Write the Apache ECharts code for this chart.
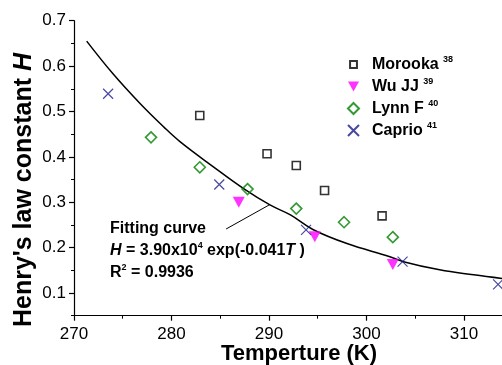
<!DOCTYPE html>
<html>
<head>
<meta charset="utf-8">
<script src="https://cdn.jsdelivr.net/npm/echarts@6/dist/echarts.min.js"></script>
<style>
  html, body { margin: 0; padding: 0; background: #fff; }
  #chart { width: 502px; height: 365px; }
</style>
</head>
<body>
<div id="chart"></div>
<script>
// data: [temperature K, H]
const morooka = [[282.9, 0.491], [289.8, 0.407], [292.8, 0.381], [295.7, 0.326], [301.6, 0.270]];
const wuJJ = [[286.9, 0.300], [294.7, 0.224], [302.7, 0.163]];
const lynnF = [[277.9, 0.443], [282.9, 0.377], [287.8, 0.329], [292.8, 0.286], [297.7, 0.256], [302.7, 0.223]];
const caprio = [[273.5, 0.539], [284.9, 0.339], [293.8, 0.239], [303.7, 0.169], [313.5, 0.119]];
// fitted curve as drawn
const fitCurve = [
  [271.3, 0.655], [274.0, 0.583], [276.8, 0.517], [279.2, 0.466], [280.9, 0.433],
  [284.3, 0.378], [287.4, 0.330], [290.1, 0.294], [292.2, 0.272], [294.5, 0.240],
  [298.0, 0.209], [302.4, 0.180], [303.8, 0.169], [307.5, 0.151], [311.0, 0.140], [313.9, 0.132]
];
const leader = [[290.1, 0.295], [285.6, 0.241]];

const seriesNames = ['Morooka', 'Wu JJ', 'Lynn F', 'Caprio'];
const refNums = ['38', '39', '40', '41'];
const xMajor = [270, 280, 290, 300, 310];
const xMinor = [275, 285, 295, 305];
const yMajor = [0.1, 0.2, 0.3, 0.4, 0.5, 0.6, 0.7];
const yMinor = [0.05, 0.15, 0.25, 0.35, 0.45, 0.55, 0.65];

const FONT = '"Liberation Sans", Arial, sans-serif';
const chart = echarts.init(document.getElementById('chart'), null, { renderer: 'canvas' });

const axisLine = { show: true, lineStyle: { color: '#000', width: 1.2 } };
// padded path keeps the legend square smaller than the other icons
const smallSquare = 'path://M-3,-3M13,13M0,0L10,0L10,10L0,10Z';

chart.setOption({
  animation: false,
  backgroundColor: '#fff',
  grid: { left: 74, right: 0, top: 20.7, bottom: 49.3 },
  legend: {
    orient: 'vertical',
    left: 342,
    top: 50.5,
    itemWidth: 11,
    itemHeight: 11,
    itemGap: 4,
    data: [
      { name: 'Morooka', icon: smallSquare },
      { name: 'Wu JJ' },
      { name: 'Lynn F' },
      { name: 'Caprio' }
    ],
    formatter: (name) => name + ' {sup|' + refNums[seriesNames.indexOf(name)] + '}',
    textStyle: {
      fontFamily: FONT, fontSize: 16, fontWeight: 'bold', color: '#000', lineHeight: 18,
      padding: [0, 0, 0, 8],
      rich: { sup: { fontFamily: FONT, fontSize: 9, fontWeight: 'bold', verticalAlign: 'top', color: '#000' } }
    }
  },
  xAxis: [{
    type: 'value', min: 270, max: 313.9,
    axisLine: axisLine,
    axisTick: { show: true, customValues: xMajor, length: 5, lineStyle: { color: '#000', width: 1.2 } },
    axisLabel: { customValues: xMajor, margin: 10, fontFamily: FONT, fontSize: 17, color: '#000' },
    splitLine: { show: false }
  }, {
    type: 'value', min: 270, max: 313.9, position: 'bottom',
    axisLine: { show: false },
    axisTick: { show: true, customValues: xMinor, length: 3, lineStyle: { color: '#000', width: 1 } },
    axisLabel: { show: false },
    splitLine: { show: false }
  }],
  yAxis: [{
    type: 'value', min: 0.05, max: 0.7,
    axisLine: axisLine,
    axisTick: { show: true, customValues: yMajor, length: 5, lineStyle: { color: '#000', width: 1.2 } },
    axisLabel: { customValues: yMajor, margin: 8, fontFamily: FONT, fontSize: 17, color: '#000',
      formatter: (v) => v.toFixed(1) },
    splitLine: { show: false }
  }, {
    type: 'value', min: 0.05, max: 0.7, position: 'left',
    axisLine: { show: false },
    axisTick: { show: true, customValues: yMinor, length: 3, lineStyle: { color: '#000', width: 1 } },
    axisLabel: { show: false },
    splitLine: { show: false }
  }],
  series: [
    {
      name: 'fit', type: 'line', data: fitCurve, smooth: 0.4, showSymbol: false, silent: true,
      lineStyle: { color: '#000', width: 1.5 }, z: 1
    },
    {
      name: 'leader', type: 'line', data: leader, showSymbol: false, silent: true,
      lineStyle: { color: '#000', width: 1 }, z: 1
    },
    {
      name: 'Morooka', type: 'scatter', data: morooka, symbol: 'rect', symbolSize: 8,
      itemStyle: { color: 'rgba(255,255,255,0)', borderColor: '#000', borderWidth: 1.6 }, z: 3
    },
    {
      name: 'Wu JJ', type: 'scatter', data: wuJJ, symbol: 'path://M0,0L10,0L5,9Z', symbolSize: [12, 11],
      itemStyle: { color: '#ff00ff' }, z: 3
    },
    {
      name: 'Lynn F', type: 'scatter', data: lynnF, symbol: 'diamond', symbolSize: 11,
      itemStyle: { color: 'rgba(255,255,255,0)', borderColor: '#008000', borderWidth: 1.6 }, z: 3
    },
    {
      name: 'Caprio', type: 'scatter', data: caprio, symbol: 'path://M0,0L10,10M10,0L0,10', symbolSize: 10,
      itemStyle: { color: 'rgba(0,0,0,0)', borderColor: '#1a1a8c', borderWidth: 1.2 }, z: 3
    }
  ],
  graphic: [
    {
      type: 'text', left: 110, top: 221,
      style: { text: 'Fitting curve', font: 'bold 16px ' + FONT, fill: '#000' }
    },
    {
      type: 'text', left: 110, top: 241,
      style: {
        text: '{i|H} = 3.90x10{sup|4} exp(-0.041{i|T} )',
        font: 'bold 16px ' + FONT, fill: '#000', lineHeight: 20,
        rich: {
          i: { fontFamily: FONT, fontSize: 16, fontWeight: 'bold', fontStyle: 'italic' },
          sup: { fontFamily: FONT, fontSize: 9, fontWeight: 'bold', verticalAlign: 'top' }
        }
      }
    },
    {
      type: 'text', left: 110, top: 263,
      style: {
        text: 'R{sup|2} = 0.9936',
        font: 'bold 16px ' + FONT, fill: '#000', lineHeight: 20,
        rich: { sup: { fontFamily: FONT, fontSize: 9, fontWeight: 'bold', verticalAlign: 'top' } }
      }
    },
    {
      type: 'text', x: 24, y: 190, rotation: Math.PI / 2,
      style: {
        text: "Henry's law constant {i|H}",
        font: 'bold 25px ' + FONT, fill: '#000', align: 'center', verticalAlign: 'middle',
        rich: { i: { fontFamily: FONT, fontSize: 25, fontWeight: 'bold', fontStyle: 'italic' } }
      }
    },
    {
      type: 'text', x: 299, y: 354,
      style: { text: 'Temperture (K)', font: 'bold 22px ' + FONT, fill: '#000', align: 'center', verticalAlign: 'middle' }
    }
  ]
});
</script>
</body>
</html>
